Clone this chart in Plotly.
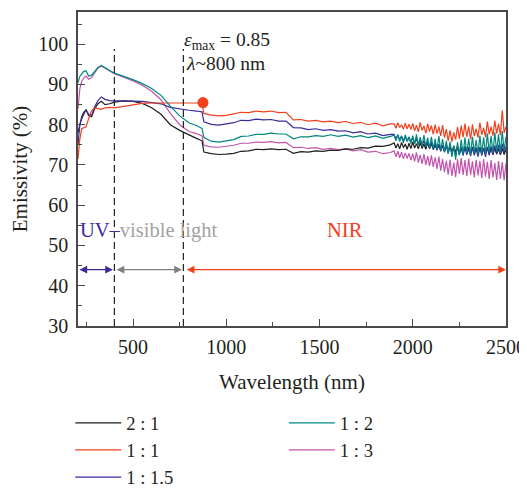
import plotly.graph_objects as go

# ---------------- data ----------------
WL_VIS = [205, 215, 225, 235, 248, 262, 278, 295, 312, 330, 350, 375, 400,
          450, 500, 550, 600, 650, 700, 750, 800, 840, 870]
WL_NIR_A = list(range(880, 1881, 40))      # 26 points
WL_NIR_B = list(range(1900, 2501, 10))     # 61 points

SERIES_NAMES = ["2 : 1", "1 : 1", "1 : 1.5", "1 : 2", "1 : 3"]

black_vis = [78.0, 80.5, 82.0, 83.0, 83.7, 82.3, 82.0, 84.0, 85.2, 85.8, 85.0, 85.2, 85.6,
             85.9, 85.8, 85.3, 84.2, 82.6, 80.0, 78.6, 77.4, 76.6, 76.0]
black_a = [73.2, 72.8, 72.6, 72.7, 72.9, 73.4, 73.5, 73.9, 73.8, 74.0, 73.8, 73.9, 72.9,
           73.3, 73.2, 73.5, 73.4, 73.7, 73.6, 74.0, 73.9, 74.3, 74.2, 74.7, 74.6, 75.0]
black_b = [75.5, 74.2, 75.3, 74.0, 75.6, 74.3, 75.2, 73.9, 75.4, 74.1,
           75.7, 74.2, 75.3, 74.0, 75.6, 74.1, 75.2, 73.9, 75.5, 74.0,
           75.3, 73.8, 75.0, 73.7, 75.1, 73.6, 74.9, 73.5, 74.8, 73.4,
           74.9, 73.3, 74.6, 73.2, 74.7, 73.1, 74.5, 73.0, 74.6, 73.1,
           74.4, 72.9, 74.5, 73.0, 74.3, 72.8, 74.4, 72.9, 74.2, 72.7,
           74.3, 72.8, 74.1, 72.6, 74.2, 72.7, 74.0, 72.5, 74.1, 72.6,
           73.8]

red_vis = [71.5, 76.5, 79.0, 79.2, 79.5, 81.5, 83.5, 84.2, 84.0, 83.8, 84.2, 84.3, 84.2,
           84.6, 85.0, 85.3, 85.4, 85.4, 85.4, 85.4, 85.4, 85.4, 85.4]
red_a = [82.8, 82.4, 82.2, 82.3, 82.7, 83.1, 83.0, 83.4, 83.2, 83.4, 83.0, 83.1, 81.2,
         81.3, 80.9, 81.1, 80.7, 80.9, 80.5, 80.8, 80.3, 80.6, 80.0, 80.4, 79.7, 80.2]
red_b = [80.2, 79.1, 80.5, 79.3, 80.0, 78.9, 80.4, 79.0, 80.1, 78.8,
         80.3, 78.5, 79.9, 78.2, 80.6, 78.6, 79.7, 77.9, 80.2, 78.3,
         79.8, 77.6, 80.0, 77.8, 79.5, 77.2, 79.9, 76.8, 78.9, 76.0,
         78.6, 75.8, 78.1, 76.3, 79.4, 76.5, 79.8, 76.9, 80.3, 77.0,
         79.6, 76.4, 80.1, 77.2, 79.0, 76.8, 80.5, 77.5, 79.2, 76.9,
         80.8, 77.6, 79.5, 77.3, 81.0, 77.8, 80.2, 77.4, 83.6, 78.0,
         79.5]

blue_vis = [75.0, 80.0, 81.5, 82.6, 83.7, 82.6, 82.3, 84.5, 86.0, 86.9, 86.3, 86.0, 85.9,
            85.9, 85.9, 85.8, 85.5, 85.2, 84.3, 83.9, 83.6, 83.4, 83.2]
blue_a = [80.7, 80.1, 79.9, 80.2, 80.5, 81.1, 81.0, 81.4, 81.2, 81.3, 80.9, 80.9, 79.3,
          79.2, 78.8, 79.0, 78.6, 78.8, 78.4, 78.5, 78.0, 78.3, 77.7, 77.9, 77.3, 77.6]
blue_b = [77.6, 76.5, 77.4, 76.3, 77.2, 76.0, 77.0, 75.9, 76.9, 75.7,
          76.8, 75.4, 76.5, 75.1, 76.3, 74.9, 76.0, 74.6, 75.8, 74.3,
          75.7, 74.0, 75.4, 73.7, 75.1, 73.4, 74.9, 73.2, 74.8, 72.9,
          74.6, 72.7, 74.3, 72.4, 74.5, 72.6, 74.2, 72.3, 74.4, 72.5,
          74.1, 72.2, 74.3, 72.4, 74.0, 72.1, 74.4, 72.3, 74.2, 72.0,
          74.5, 72.4, 74.6, 72.5, 74.8, 72.7, 75.0, 72.8, 75.3, 73.0,
          74.6]

teal_vis = [90.5, 92.0, 92.6, 93.2, 93.4, 92.1, 92.3, 93.3, 94.2, 94.7, 94.2, 93.4, 92.8,
            92.0, 91.2, 90.2, 89.0, 87.3, 84.6, 82.2, 80.5, 79.8, 79.1]
teal_a = [76.8, 75.9, 75.7, 76.0, 76.3, 77.1, 77.2, 77.6, 77.6, 77.9, 77.7, 77.7, 76.5,
          77.0, 77.0, 77.3, 77.1, 77.5, 77.1, 77.4, 76.9, 77.3, 76.8, 77.2, 76.6, 77.1]
teal_b = [77.4, 76.0, 77.6, 75.8, 77.2, 75.5, 77.5, 75.9, 77.0, 75.3,
          77.3, 75.2, 77.6, 74.9, 76.9, 74.7, 77.4, 74.5, 76.8, 74.2,
          77.0, 74.0, 76.5, 73.8, 77.2, 73.6, 76.4, 73.2, 76.0, 72.8,
          75.8, 72.0, 74.9, 71.3, 75.6, 72.4, 76.3, 72.6, 76.8, 72.9,
          76.5, 72.5, 77.0, 73.0, 76.2, 72.7, 77.3, 72.8, 76.9, 72.6,
          77.8, 73.1, 77.2, 72.9, 78.1, 73.3, 77.6, 73.0, 78.4, 73.5,
          77.0]

pink_vis = [84.0, 89.0, 90.8, 91.6, 92.1, 91.3, 91.7, 93.0, 94.1, 94.6, 94.1, 93.3, 92.7,
            91.8, 90.9, 89.8, 88.3, 86.2, 82.8, 80.0, 78.3, 77.8, 77.2]
pink_a = [74.9, 74.5, 74.4, 74.7, 74.9, 75.4, 75.4, 75.7, 75.6, 75.8, 75.5, 75.6, 74.3,
          74.4, 74.1, 74.3, 73.9, 74.1, 73.8, 74.0, 73.5, 73.8, 73.2, 73.4, 72.8, 73.1]
pink_b = [73.5, 72.0, 73.4, 71.8, 73.2, 71.5, 73.0, 71.6, 72.9, 71.2,
          72.8, 70.9, 73.1, 70.6, 72.5, 70.3, 72.7, 70.0, 72.2, 69.8,
          72.4, 69.5, 71.9, 69.0, 72.1, 68.6, 71.5, 68.2, 71.0, 67.6,
          71.3, 67.3, 70.6, 67.0, 71.4, 67.8, 71.7, 67.5, 71.2, 67.2,
          71.6, 67.6, 70.9, 66.9, 71.3, 67.4, 71.0, 66.7, 71.5, 67.1,
          70.8, 66.5, 71.2, 66.9, 70.5, 66.3, 71.0, 66.6, 70.7, 66.2,
          70.4]

MAX_POINT_WL = [875]
MAX_POINT_VAL = [85.5]

REGION_BOUNDS = [400, 770]          # dashed separators (nm)
ARROW_LEVEL = 44                    # emissivity level of region arrows
UV_ARROW = [205, 392]
VIS_ARROW = [404, 762]
NIR_ARROW = [780, 2500]

# ---------------- styles ----------------
C_BLACK = "#1e1e1e"
C_RED = "#f2401c"
C_BLUE = "#3a2c9c"
C_TEAL = "#00877e"
C_PINK = "#c254ad"
C_GRAY_ARROW = "#808080"
C_GRAY_TEXT = "#a3a3a3"
TXT = "#231f20"
AX = "#4a4a4a"
FONT = "Liberation Serif"

x_all = WL_VIS + WL_NIR_A + WL_NIR_B
series = {
    "2 : 1": (black_vis + black_a + black_b, C_BLACK, "legend", 1),
    "1 : 1": (red_vis + red_a + red_b, C_RED, "legend", 2),
    "1 : 1.5": (blue_vis + blue_a + blue_b, C_BLUE, "legend", 3),
    "1 : 2": (teal_vis + teal_a + teal_b, C_TEAL, "legend2", 1),
    "1 : 3": (pink_vis + pink_a + pink_b, C_PINK, "legend2", 2),
}
draw_order = ["1 : 3", "2 : 1", "1 : 1.5", "1 : 1", "1 : 2"]

fig = go.Figure()
for name in draw_order:
    y, col, lg, rank = series[name]
    fig.add_trace(go.Scatter(
        x=x_all, y=y, mode="lines", name=name,
        line=dict(color=col, width=1.2),
        legend=lg, legendrank=rank,
    ))

fig.add_trace(go.Scatter(
    x=MAX_POINT_WL, y=MAX_POINT_VAL, mode="markers", showlegend=False,
    marker=dict(color=C_RED, size=11),
))

# dashed separators
for xb in REGION_BOUNDS:
    fig.add_shape(type="line", xref="x", yref="y", x0=xb, x1=xb, y0=30, y1=98.8,
                  line=dict(color="#222222", width=1.2, dash="7px,4px"))

# region arrows
for (x0, x1), col in [(UV_ARROW, C_BLUE), (VIS_ARROW, C_GRAY_ARROW), (NIR_ARROW, C_RED)]:
    fig.add_annotation(
        x=x1, y=ARROW_LEVEL, ax=x0, ay=ARROW_LEVEL, xref="x", yref="y",
        axref="x", ayref="y", text="", showarrow=True,
        arrowhead=2, startarrowhead=2, arrowside="end+start",
        arrowsize=1.1, startarrowsize=1.1, arrowwidth=1.4, arrowcolor=col,
        standoff=0, startstandoff=0,
    )

# region labels
fig.add_annotation(
    x=0.0, y=53.8, xref="paper", yref="y", xanchor="left", yanchor="middle",
    text=f"<span style='color:{C_BLUE}'>UV–</span><span style='color:{C_GRAY_TEXT}'>visible light</span>",
    showarrow=False, font=dict(family=FONT, size=20.5),
)
fig.add_annotation(
    x=1637, y=53.8, xref="x", yref="y", xanchor="center", yanchor="middle",
    text="NIR", showarrow=False, font=dict(family=FONT, size=20.5, color=C_RED),
)

# epsilon / lambda annotation
fig.add_annotation(
    x=764, y=100.9, xref="x", yref="y", xanchor="left", yanchor="middle",
    text="<i>ε</i><sub>max</sub> = 0.85", showarrow=False,
    font=dict(family=FONT, size=19.5, color=TXT),
)
fig.add_annotation(
    x=776, y=95.2, xref="x", yref="y", xanchor="left", yanchor="middle",
    text="<i>λ</i>~800 nm", showarrow=False,
    font=dict(family=FONT, size=19.5, color=TXT),
)

axis_common = dict(
    showline=True, linecolor=AX, linewidth=1.5, mirror=True,
    ticks="inside", ticklen=7, tickwidth=1.2, tickcolor=AX,
    showgrid=False, zeroline=False,
    tickfont=dict(family=FONT, size=20, color=TXT),
)

# page body adds an 8 px offset; the figure is sized so the plot lands where the reference has it
fig.update_layout(
    width=519, height=481,
    margin=dict(l=70, r=21, t=4, b=163, autoexpand=False),
    plot_bgcolor="white", paper_bgcolor="white",
    font=dict(family=FONT, color=TXT),
    xaxis=dict(range=[205, 2500], tick0=0, dtick=500, ticklabelstandoff=2,
               minor=dict(ticks="inside", ticklen=4, tickwidth=1.2, dtick=250, tick0=0, tickcolor=AX),
               title=dict(text="Wavelength (nm)", font=dict(family=FONT, size=21, color=TXT), standoff=18),
               **axis_common),
    yaxis=dict(range=[30, 108], tick0=0, dtick=10, ticklabelstandoff=4,
               minor=dict(ticks="inside", ticklen=4, tickwidth=1.2, dtick=5, tick0=0, tickcolor=AX),
               title=dict(text="Emissivity (%)", font=dict(family=FONT, size=21, color=TXT), standoff=11),
               **axis_common),
    legend=dict(x=-0.018, y=-0.249, xanchor="left", yanchor="top",
                font=dict(family=FONT, size=18.6, color=TXT), bgcolor="rgba(0,0,0,0)",
                itemwidth=46, tracegroupgap=0),
    legend2=dict(x=0.481, y=-0.249, xanchor="left", yanchor="top",
                 font=dict(family=FONT, size=18.6, color=TXT), bgcolor="rgba(0,0,0,0)",
                 itemwidth=46, tracegroupgap=0),
)

fig.write_html("out.html")
